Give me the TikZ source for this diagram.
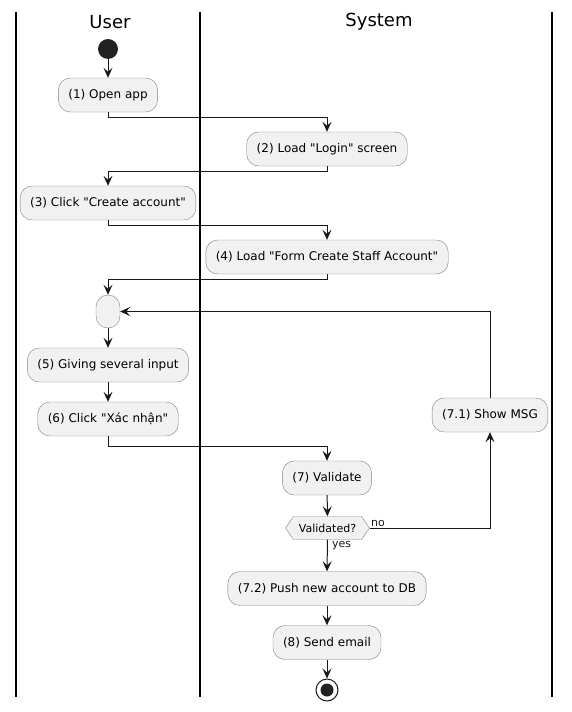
\documentclass[tikz,border=0pt]{standalone}
\usepackage{fontspec}
\setmainfont{DejaVu Sans}
\usetikzlibrary{arrows.meta,shapes.symbols}
\definecolor{umlfill}{HTML}{F1F1F1}
\definecolor{umlline}{HTML}{181818}
\definecolor{umlborder}{HTML}{808080}
\definecolor{umldot}{HTML}{222222}
\newcommand{\qt}{\textquotedbl}
\begin{document}
\begin{tikzpicture}[x=1pt,y=-1pt,
  act/.style={draw=umlborder,fill=umlfill,rounded corners=12pt,minimum height=34pt,inner xsep=10pt,font=\fontsize{12}{14}\selectfont},
  flow/.style={umlline,line width=1pt,-{Stealth[length=10pt,width=9pt,inset=4pt]}},
  lane/.style={line width=1.3pt,black},
  lanetitle/.style={font=\fontsize{18}{20}\selectfont},
  guard/.style={font=\fontsize{11}{12}\selectfont,inner sep=1pt}]
  \useasboundingbox (0,0) rectangle (571,712);
  \draw[lane] (16,12) -- (16,697);
  \draw[lane] (200,12) -- (200,697);
  \draw[lane] (552,12) -- (552,697);
  \node[lanetitle] (usertitle) at (110,22) {User};
  \node[lanetitle] (systitle) at (379,22) {System};
  \node[circle,fill=umldot,minimum size=20pt,inner sep=0pt] (start) at (108,49) {};
  \node[act] (open) at (108,95) {(1) Open app};
  \node[act] (login) at (327,149) {(2) Load \qt Login\qt{} screen};
  \node[act] (create) at (108,203) {(3) Click \qt Create account\qt};
  \node[act] (form) at (327,257) {(4) Load \qt Form Create Staff Account\qt};
  \node[act,minimum width=24pt,minimum height=33pt,inner xsep=0pt] (merge) at (108,311.5) {};
  \node[act] (input) at (108,365) {(5) Giving several input};
  \node[act] (confirm) at (108,419) {(6) Click \qt Xác nhận\qt};
  \node[act] (validate) at (327,478) {(7) Validate};
  \node[shape=signal,signal to=west and east,signal pointer angle=110,draw=umlborder,fill=umlfill,minimum width=84pt,minimum height=23pt,inner xsep=2pt,font=\fontsize{11}{12}\selectfont] (check) at (327.5,528) {Validated?};
  \node[act] (showmsg) at (490,415) {(7.1) Show MSG};
  \node[act] (push) at (327,588.5) {(7.2) Push new account to DB};
  \node[act] (email) at (327,642.5) {(8) Send email};
  \node[circle,draw=umlline,line width=1pt,fill=white,minimum size=22pt,inner sep=0pt] (stop) at (327,690) {};
  \node[circle,fill=umldot,minimum size=13pt,inner sep=0pt] (stopdot) at (stop) {};
  \draw[flow] (start) -- (open);
  \draw[flow] (open.south) -- ++(0,5) -| (login.north);
  \draw[flow] (login.south) -- ++(0,5) -| (create.north);
  \draw[flow] (create.south) -- ++(0,5) -| (form.north);
  \draw[flow] (form.south) -- ++(0,5) -| (merge.north);
  \draw[flow] (merge) -- (input);
  \draw[flow] (input) -- (confirm);
  \draw[flow] (confirm.south) -- ++(0,10) -| (validate.north);
  \draw[flow] (validate) -- (check);
  \draw[flow] (check.east) -| (showmsg.south) node[guard,pos=0,anchor=south west] {no};
  \draw[flow] (showmsg.north) |- (merge.east);
  \draw[flow] (check.south) -- (push.north) node[guard,pos=0,anchor=north west,xshift=3pt] {yes};
  \draw[flow] (push) -- (email);
  \draw[flow] (email) -- (stop);
\end{tikzpicture}
\end{document}
